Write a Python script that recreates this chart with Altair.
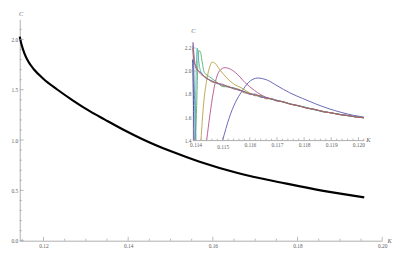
import altair as alt
import pandas as pd

# ---------------- main curve ----------------
main_x = [0.11440, 0.11485, 0.11552, 0.11642, 0.11777, 0.12002, 0.12316, 0.12698,
          0.13103, 0.13440, 0.13889, 0.14339, 0.15013, 0.15687, 0.16586, 0.17710,
          0.18609, 0.19575]
main_c = [2.028, 1.944, 1.860, 1.780, 1.701, 1.607, 1.505, 1.393,
          1.285, 1.206, 1.103, 1.009, 0.888, 0.785, 0.673, 0.570,
          0.495, 0.430]

main_x_major = [0.12, 0.14, 0.16, 0.18, 0.20]
main_x_minor = [0.115, 0.125, 0.13, 0.135, 0.145, 0.15, 0.155, 0.165, 0.17, 0.175,
                0.185, 0.19, 0.195]
main_y_major = [0.0, 0.5, 1.0, 1.5, 2.0]
main_y_minor = [0.1, 0.2, 0.3, 0.4, 0.6, 0.7, 0.8, 0.9, 1.1, 1.2, 1.3, 1.4,
                1.6, 1.7, 1.8, 1.9, 2.1]

# ---------------- inset series ----------------
purple_x = [0.11500, 0.11524, 0.11547, 0.11571, 0.11594, 0.11629, 0.11665, 0.11700,
            0.11747, 0.11794, 0.11841, 0.11888, 0.11935, 0.11982, 0.12020]
purple_c = [1.40, 1.593, 1.729, 1.824, 1.898, 1.939, 1.920, 1.873,
            1.811, 1.762, 1.716, 1.675, 1.642, 1.615, 1.600]

pink_x = [0.11441, 0.11453, 0.11465, 0.11476, 0.11488, 0.11508, 0.11529, 0.11553,
          0.11582, 0.11618, 0.1164, 0.1166, 0.1170, 0.1175, 0.1181, 0.1187, 0.1193,
          0.1199, 0.1202]
pink_c = [1.40, 1.62, 1.81, 1.933, 2.00, 2.029, 2.015, 1.974,
          1.90, 1.83, 1.795, 1.772, 1.745, 1.712, 1.681, 1.649, 1.625,
          1.603, 1.595]

gold_x = [0.11420, 0.11429, 0.11441, 0.11453, 0.11461, 0.11471, 0.11488, 0.11512,
          0.11541, 0.11571, 0.1160, 0.1164, 0.1168, 0.1172, 0.1178, 0.1184, 0.1190,
          0.1196, 0.1202]
gold_c = [1.40, 1.70, 1.92, 2.042, 2.078, 2.069, 2.015, 1.947,
          1.887, 1.851, 1.808, 1.778, 1.757, 1.732, 1.698, 1.665, 1.636,
          1.612, 1.593]

green_x = [0.11400, 0.11404, 0.11408, 0.11412, 0.11418, 0.11424, 0.11432, 0.11445,
           0.1146, 0.1148, 0.1150, 0.1152, 0.1155, 0.1158, 0.1162, 0.1166, 0.1170,
           0.1175, 0.1181, 0.1187, 0.1193, 0.1199, 0.1202]
green_c = [1.40, 1.70, 2.03, 2.178, 2.165, 2.083, 1.988, 1.96,
           1.935, 1.90, 1.865, 1.862, 1.848, 1.82, 1.79, 1.765, 1.745,
           1.713, 1.679, 1.648, 1.623, 1.602, 1.594]

teal_x = [0.11398, 0.11402, 0.11406, 0.11410, 0.11416, 0.11424, 0.1143, 0.1145,
          0.1148, 0.1151, 0.1154, 0.1157, 0.1160, 0.1163, 0.1166, 0.1169, 0.1172,
          0.1176, 0.1180, 0.1184, 0.1188, 0.1192, 0.1196, 0.1202]
teal_c = [1.40, 1.95, 2.20, 2.12, 2.02, 1.975, 1.955, 1.925,
          1.89, 1.872, 1.845, 1.83, 1.80, 1.79, 1.768, 1.752, 1.733,
          1.708, 1.688, 1.662, 1.644, 1.628, 1.612, 1.594]

band_x = [0.11390, 0.11395, 0.1140, 0.1142, 0.1144, 0.1146, 0.1148, 0.1150, 0.1152,
          0.1154, 0.1156, 0.1158, 0.1160, 0.1162, 0.1164, 0.1166, 0.1168, 0.1170,
          0.1172, 0.1175, 0.1178, 0.1181, 0.1184, 0.1187, 0.1190, 0.1193, 0.1196,
          0.1199, 0.1202]
violet_c = [2.25, 2.12, 2.03, 1.985, 1.935, 1.915, 1.893, 1.885, 1.862,
            1.852, 1.832, 1.822, 1.798, 1.80, 1.772, 1.77, 1.755, 1.741,
            1.735, 1.712, 1.699, 1.678, 1.666, 1.646, 1.637, 1.622, 1.614,
            1.601, 1.593]
brown_c = [2.20, 2.08, 2.05, 1.97, 1.945, 1.905, 1.898, 1.872, 1.868,
           1.846, 1.84, 1.81, 1.806, 1.785, 1.788, 1.758, 1.762, 1.738,
           1.736, 1.71, 1.70, 1.675, 1.668, 1.645, 1.638, 1.62, 1.615,
           1.60, 1.595]

blue_x = [0.11390, 0.11393, 0.11397, 0.11401]
blue_c = [2.22, 2.05, 1.70, 1.40]
navy_x = [0.11389, 0.11392, 0.11394]
navy_c = [2.10, 1.75, 1.40]

inset_x_major = [0.114, 0.115, 0.116, 0.117, 0.118, 0.119, 0.120]
inset_x_minor = [0.1142, 0.1144, 0.1146, 0.1148, 0.1152, 0.1154, 0.1156, 0.1158,
                 0.1162, 0.1164, 0.1166, 0.1168, 0.1172, 0.1174, 0.1176, 0.1178,
                 0.1182, 0.1184, 0.1186, 0.1188, 0.1192, 0.1194, 0.1196, 0.1198, 0.1202]
inset_y_major = [1.4, 1.6, 1.8, 2.0, 2.2]
inset_y_minor = [1.45, 1.5, 1.55, 1.65, 1.7, 1.75, 1.85, 1.9, 1.95, 2.05, 2.1, 2.15]

series_names = ["purple", "pink", "gold", "green", "blue", "teal", "violet", "brown", "navy"]
series_colors = ["#5856B0", "#B0508A", "#B5A040", "#4FAE68", "#4F7FC0", "#4FB0B0",
                 "#9050B0", "#B06850", "#3F3D99"]

# ---------------- tables ----------------
df_main = pd.DataFrame({"x": main_x, "c": main_c})

rows = []
for name, xs, cs in [("purple", purple_x, purple_c), ("pink", pink_x, pink_c),
                     ("gold", gold_x, gold_c), ("green", green_x, green_c),
                     ("blue", blue_x, blue_c), ("teal", teal_x, teal_c),
                     ("violet", band_x, violet_c), ("brown", band_x, brown_c),
                     ("navy", navy_x, navy_c)]:
    for i, (a, b) in enumerate(zip(xs, cs)):
        rows.append({"series": name, "x": a, "c": b, "i": i})
df_inset = pd.DataFrame(rows)

# ---------------- layout ----------------
W, H = 370, 226
IX0, IX1 = 176.7, 351.2      # inset x range (px in plot area)
IYB, IYT = 123.3, 23.4       # inset y range (bottom, top)

AX = "#9a9a9a"
LAB = "#606060"
FONT = "Liberation Serif"


def xs_main():
    return alt.Scale(domain=[0.1144, 0.20], range=[0, W], nice=False, zero=False)


def ys_main():
    return alt.Scale(domain=[0.0, 2.2], range=[H, 0], nice=False, zero=False)


def xs_in():
    return alt.Scale(domain=[0.1139, 0.1202], range=[IX0, IX1], nice=False, zero=False)


def ys_in():
    return alt.Scale(domain=[1.4, 2.25], range=[IYB, IYT], nice=False, zero=False)


main_line = alt.Chart(df_main).mark_line(
    color="black", strokeWidth=2.2, interpolate="monotone"
).encode(
    x=alt.X("x:Q", scale=xs_main(), axis=alt.Axis(
        orient="bottom",
        values=main_x_major, format=".2f", ticks=False, grid=False,
        domainColor=AX, domainWidth=0.8, labelFont=FONT, labelFontSize=5.5,
        labelColor=LAB, labelPadding=3, labelFlush=False, labelOverlap=False,
        title="K", titleX=375, titleY=0, titleAlign="left", titleBaseline="middle",
        titleFont=FONT, titleFontSize=6.5, titleFontStyle="italic",
        titleFontWeight="normal", titleColor=LAB)),
    y=alt.Y("c:Q", scale=ys_main(), axis=alt.Axis(
        orient="left",
        values=main_y_major, format=".1f", ticks=False, grid=False,
        domainColor=AX, domainWidth=0.8, labelFont=FONT, labelFontSize=5.5,
        labelColor=LAB, labelPadding=2, labelFlush=False, labelOverlap=False,
        title="C", titleAngle=0, titleX=1, titleY=-3, titleAlign="center",
        titleBaseline="bottom", titleFont=FONT, titleFontSize=6.5,
        titleFontStyle="italic", titleFontWeight="normal", titleColor=LAB)),
)


def xticks(vals, scale, y0, ln):
    return alt.Chart(pd.DataFrame({"v": vals})).mark_rule(color=AX, strokeWidth=0.7).encode(
        x=alt.X("v:Q", scale=scale, axis=None),
        y=alt.value(y0), y2=alt.value(y0 - ln))


def yticks(vals, scale, x0, ln):
    return alt.Chart(pd.DataFrame({"v": vals})).mark_rule(color=AX, strokeWidth=0.7).encode(
        y=alt.Y("v:Q", scale=scale, axis=None),
        x=alt.value(x0), x2=alt.value(x0 + ln))


inset_lines = alt.Chart(df_inset).mark_line(strokeWidth=0.9, interpolate="monotone").encode(
    x=alt.X("x:Q", scale=xs_in(), axis=alt.Axis(
        orient="bottom", offset=-(H - IYB),
        values=inset_x_major, format=".3f", ticks=False, grid=False,
        domainColor=AX, domainWidth=0.8, labelFont=FONT, labelFontSize=5.5,
        labelColor=LAB, labelFlush=False, labelOverlap=False,
        labelPadding={"condition": {"test": "abs(datum.value - 0.115) < 0.00001", "value": 4.5},
                      "value": 2.5},
        title="K", titleX=IX1 + 2, titleY=-1, titleAlign="left", titleBaseline="middle",
        titleFont=FONT, titleFontSize=6.5, titleFontStyle="italic",
        titleFontWeight="normal", titleColor=LAB)),
    y=alt.Y("c:Q", scale=ys_in(), axis=alt.Axis(
        orient="left", offset=-IX0,
        values=inset_y_major, format=".1f", ticks=False, grid=False,
        domainColor=AX, domainWidth=0.8, labelFont=FONT, labelFontSize=5.5,
        labelColor=LAB, labelPadding=2, labelFlush=False, labelOverlap=False,
        title="C", titleAngle=0, titleX=0, titleY=IYT - 12, titleAlign="center",
        titleBaseline="middle", titleFont=FONT, titleFontSize=6.5,
        titleFontStyle="italic", titleFontWeight="normal", titleColor=LAB)),
    color=alt.Color("series:N", scale=alt.Scale(domain=series_names, range=series_colors),
                    legend=None),
    detail="series:N",
    order=alt.Order("i:Q"),
)

chart = alt.layer(
    main_line,
    xticks(main_x_major, xs_main(), H, 4), xticks(main_x_minor, xs_main(), H, 2),
    yticks(main_y_major, ys_main(), 0, 4), yticks(main_y_minor, ys_main(), 0, 2),
    inset_lines,
    xticks(inset_x_major, xs_in(), IYB, 3), xticks(inset_x_minor, xs_in(), IYB, 1.5),
    yticks(inset_y_major, ys_in(), IX0, 3), yticks(inset_y_minor, ys_in(), IX0, 1.5),
).resolve_scale(
    x="independent", y="independent"
).properties(
    width=W, height=H,
    autosize=alt.AutoSizeParams(type="none"),
    padding={"left": 12, "top": 9, "right": 11, "bottom": 10},
).configure_view(stroke=None)

chart.save("out.html", embed_options={"renderer": "svg", "actions": False})
